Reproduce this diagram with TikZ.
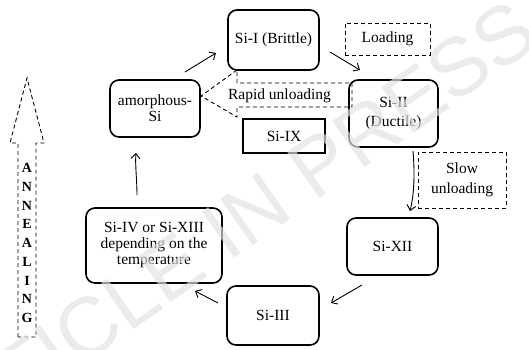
\documentclass[tikz,border=0pt]{standalone}
\usepackage{fontspec}
\setmainfont{Liberation Serif}
\newfontfamily\wmfont{Liberation Sans}
\usetikzlibrary{arrows.meta}
\definecolor{wm}{RGB}{225,225,225}
\begin{document}
\begin{tikzpicture}[x=1pt,y=-1pt,
  txt/.style={font=\fontsize{15.5}{16}\selectfont},
  solidbox/.style={draw, line width=1.6pt, rounded corners=9pt, align=center, inner sep=0pt, txt},
  sharpbox/.style={draw, line width=1.3pt, align=center, inner sep=0pt, txt},
  dashbox/.style={draw, line width=0.9pt, dash pattern=on 4pt off 3pt, align=center, inner sep=0pt, txt},
  dashline/.style={line width=0.9pt, dash pattern=on 4pt off 3pt},
  arr/.style={-{Straight Barb[length=5pt,width=9pt]}, line width=0.9pt},
]
\useasboundingbox (0,0) rectangle (529,349);

% boxes
\node[solidbox, minimum width=91pt, minimum height=60pt] (siI) at (273.5,40) {Si-I (Brittle)};
\node[dashbox, minimum width=85pt, minimum height=32pt] (loading) at (387.5,39) {Loading};
\node[solidbox, minimum width=89pt, minimum height=67pt, font=\fontsize{15.5}{19.5}\selectfont] (siII) at (393.5,113.5) {Si-II\\[-1pt](Ductile)};
\node[solidbox, minimum width=90pt, minimum height=57pt] (amorph) at (155,108.5) {amorphous-\\Si};
\node[sharpbox, minimum width=82pt, minimum height=34pt] (siIX) at (284,136) {Si-IX};
\node[dashbox, minimum width=88pt, minimum height=56pt, font=\fontsize{15.5}{20}\selectfont] (slow) at (462,180) {Slow\\unloading};
\node[solidbox, minimum width=91pt, minimum height=57pt] (siXII) at (392.5,246.5) {Si-XII};
\node[solidbox, minimum width=92pt, minimum height=59pt] (siIII) at (273,315.5) {Si-III};
\node[solidbox, minimum width=136pt, minimum height=75pt] (siIV) at (154,245.5) {Si-IV or Si-XIII\\depending on the\\temperature};

% rapid unloading callout
\draw[dashline] (237,70) -- (201,96) -- (237,117) -- (237,107) -- (352,107) -- (352,83) -- (237,83) -- cycle;
\node[txt, inner sep=0pt] (rapid) at (279.5,96) {Rapid unloading};

% cycle arrows
\coordinate (a1s) at (185,72);  \coordinate (a1e) at (216,53);
\coordinate (a2s) at (330,52);  \coordinate (a2e) at (360,70);
\coordinate (a3s) at (413,151); \coordinate (a3e) at (410,211);
\coordinate (a4s) at (362,285); \coordinate (a4e) at (331,303);
\coordinate (a5s) at (218,303); \coordinate (a5e) at (195,291);
\coordinate (a6s) at (137,195); \coordinate (a6e) at (136,153);
\draw[arr] (a1s) -- (a1e);
\draw[arr] (a2s) -- (a2e);
\draw[arr] (a3s) .. controls (415,175) and (414,195) .. (a3e);
\draw[arr] (a4s) -- (a4e);
\draw[arr] (a5s) -- (a5e);
\draw[arr] (a6s) .. controls (137,180) and (135,165) .. (a6e);

% annealing arrow
\draw[dashline] (18,337) -- (18,143) -- (10,143) -- (27,78) -- (44,143) -- (36,143) -- (36,337) -- cycle;
\node[align=center, inner sep=0pt, font=\fontsize{14}{18.75}\selectfont\bfseries] (anneal) at (27,243) {A\\N\\N\\E\\A\\L\\I\\N\\G};

% watermark
\node[text=wm, opacity=0.68, rotate=35, inner sep=0pt, font=\wmfont\fontsize{82}{82}\selectfont] (wmark) at (219,235) {ARTICLE IN PRESS};
\end{tikzpicture}
\end{document}
